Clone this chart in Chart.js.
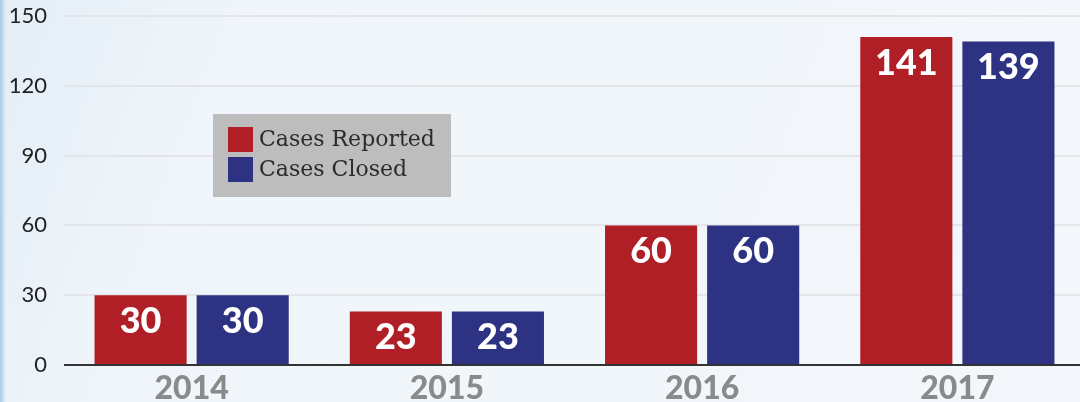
<!DOCTYPE html>
<html>
<head>
<meta charset="utf-8">
<script src="https://cdn.jsdelivr.net/npm/chart.js@4"></script>
<style>
  html, body { margin: 0; padding: 0; overflow: hidden; background: #eef4f9; }
  #wrap { width: 1080px; height: 402px; overflow: hidden; }
  canvas { display: block; }
</style>
</head>
<body>
<div id="wrap"><canvas id="casesChart" width="1085" height="402"></canvas></div>
<script>
// Cases reported vs closed per year
const years = ['2014', '2015', '2016', '2017'];
const casesReported = [30, 23, 60, 141];
const casesClosed = [30, 23, 60, 139];
const yTicks = [0, 30, 60, 90, 120, 150];

const RED = '#b01f26';
const BLUE = '#2d3382';

// background wash with the blue edge on the left
const backdrop = {
    id: 'backdrop',
    beforeDraw(chart) {
        const ctx = chart.ctx;
        const w = chart.width, h = chart.height;
        ctx.save();
        const g = ctx.createLinearGradient(0, 0, w, h);
        g.addColorStop(0, '#e4eef7');
        g.addColorStop(0.2, '#eff5fa');
        g.addColorStop(1, '#f3f7fb');
        ctx.fillStyle = g;
        ctx.fillRect(0, 0, w, h);
        const edge = ctx.createLinearGradient(0, 0, 6, 0);
        edge.addColorStop(0, '#a6cbe4');
        edge.addColorStop(1, 'rgba(166,203,228,0)');
        ctx.fillStyle = edge;
        ctx.fillRect(0, 0, 6, h);
        ctx.restore();
    }
};

// white numbers inside the top of each bar
const barValues = {
    id: 'barValues',
    afterDatasetsDraw(chart) {
        const ctx = chart.ctx;
        ctx.save();
        ctx.fillStyle = '#ffffff';
        ctx.font = '900 36px Lato';
        ctx.textAlign = 'center';
        ctx.textBaseline = 'middle';
        chart.data.datasets.forEach((ds, i) => {
            chart.getDatasetMeta(i).data.forEach((bar, j) => {
                ctx.fillText(String(ds.data[j]), bar.x, bar.y + 26);
            });
        });
        ctx.restore();
    }
};

// grey legend box inside the plot
const boxLegend = {
    id: 'boxLegend',
    afterDraw(chart) {
        const ctx = chart.ctx;
        ctx.save();
        ctx.fillStyle = '#bdbdbe';
        ctx.fillRect(213, 114, 238, 83);
        ctx.font = '22px "DejaVu Serif"';
        ctx.textBaseline = 'middle';
        chart.data.datasets.forEach((ds, i) => {
            const top = 127 + i * 30;
            ctx.fillStyle = ds.backgroundColor;
            ctx.fillRect(228, top, 25, 25);
            ctx.fillStyle = '#2b2b2b';
            ctx.fillText(ds.label, 259, top + 13);
        });
        ctx.restore();
    }
};

const ctx = document.getElementById('casesChart').getContext('2d');
new Chart(ctx, {
    type: 'bar',
    data: {
        labels: years,
        datasets: [
            { label: 'Cases Reported', data: casesReported, backgroundColor: RED },
            { label: 'Cases Closed', data: casesClosed, backgroundColor: BLUE }
        ]
    },
    options: {
        responsive: false,
        animation: false,
        layout: { padding: { top: 16, right: 0, left: 0, bottom: 0 } },
        datasets: {
            bar: { categoryPercentage: 0.8, barPercentage: 0.902 }
        },
        plugins: {
            legend: { display: false },
            tooltip: { enabled: false }
        },
        scales: {
            x: {
                grid: { display: false },
                border: { display: false },
                ticks: {
                    color: '#8a8a8a',
                    font: { family: 'Lato', size: 32, weight: '900' },
                    padding: -4
                },
                afterFit(scale) {
                    scale.height = 37;
                    scale.paddingLeft = 0;
                    scale.paddingRight = 0;
                }
            },
            y: {
                min: 0,
                max: 150,
                afterBuildTicks(scale) {
                    scale.ticks = yTicks.map(v => ({ value: v }));
                },
                grid: {
                    drawTicks: false,
                    lineWidth: 2,
                    color: c => (c.tick && c.tick.value === 0) ? '#333333' : '#e3e5e8'
                },
                border: { display: false },
                ticks: {
                    color: '#222222',
                    font: { family: 'Lato', size: 22 },
                    padding: 17
                },
                afterFit(scale) {
                    scale.width = 64;
                    scale.paddingTop = 0;
                    scale.paddingBottom = 0;
                }
            }
        }
    },
    plugins: [backdrop, barValues, boxLegend]
});
</script>
</body>
</html>
